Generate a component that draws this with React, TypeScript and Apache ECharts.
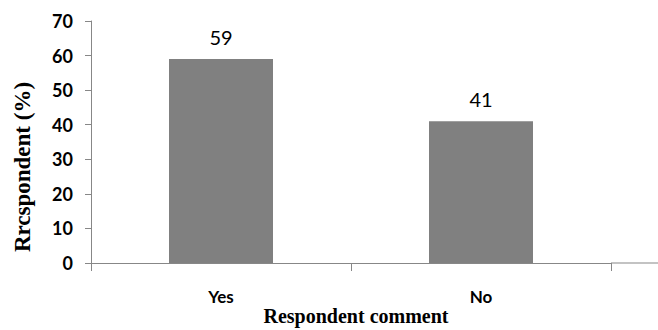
import React, { useEffect, useRef } from "react";
import * as echarts from "echarts";

const categories = ["Yes", "No"];
const values = [59, 41];
const yTicks = { min: 0, max: 70, interval: 10 };
const xTitle = "Respondent comment";
const yTitle = "Rrcspondent (%)";

export default function App() {
  const ref = useRef<HTMLDivElement>(null);
  useEffect(() => {
    if (!ref.current) return;
    const chart = echarts.init(ref.current, null, { renderer: "svg" });
    const axisColor = "#878787";
    chart.setOption({
      animation: false,
      backgroundColor: "#ffffff",
      grid: { left: 91, top: 21, width: 520, height: 242, containLabel: false, outerBoundsMode: "none" },
      xAxis: {
        type: "category",
        data: categories,
        axisLine: { lineStyle: { color: axisColor, width: 1 } },
        axisTick: { show: true, length: 8, alignWithLabel: false, lineStyle: { color: axisColor } },
        axisLabel: { margin: 25, fontFamily: "Lato", fontWeight: "bold", fontSize: 17, color: "#000" },
        splitLine: { show: false },
      },
      yAxis: {
        type: "value",
        min: yTicks.min,
        max: yTicks.max,
        interval: yTicks.interval,
        axisLine: { show: true, lineStyle: { color: axisColor, width: 1 } },
        axisTick: { show: true, length: 6, lineStyle: { color: axisColor } },
        axisLabel: { margin: 18, fontFamily: "Lato", fontWeight: "bold", fontSize: 18, color: "#000" },
        splitLine: { show: false },
      },
      series: [
        {
          type: "bar",
          data: values,
          barWidth: "40%",
          itemStyle: { color: "#808080" },
          label: {
            show: true,
            position: "top",
            distance: 12,
            fontFamily: "Lato",
            fontSize: 20,
            color: "#000",
          },
        },
      ],
      graphic: [
        {
          type: "line",
          shape: { x1: 611, y1: 263, x2: 658, y2: 263 },
          style: { stroke: axisColor, lineWidth: 1 },
        },
        {
          type: "text",
          x: 356,
          y: 316,
          style: {
            text: xTitle,
            fontFamily: "Liberation Serif",
            fontWeight: "bold",
            fontSize: 20,
            fill: "#000",
            align: "center",
            verticalAlign: "middle",
          },
        },
        {
          type: "text",
          x: 22,
          y: 167,
          rotation: Math.PI / 2,
          style: {
            text: yTitle,
            fontFamily: "Liberation Serif",
            fontWeight: "bold",
            fontSize: 23,
            fill: "#000",
            align: "center",
            verticalAlign: "middle",
          },
        },
      ],
    });
    return () => chart.dispose();
  }, []);
  return (
    <div
      ref={ref}
      style={{ position: "fixed", left: 0, top: 0, width: 658, height: 330 }}
    />
  );
}
